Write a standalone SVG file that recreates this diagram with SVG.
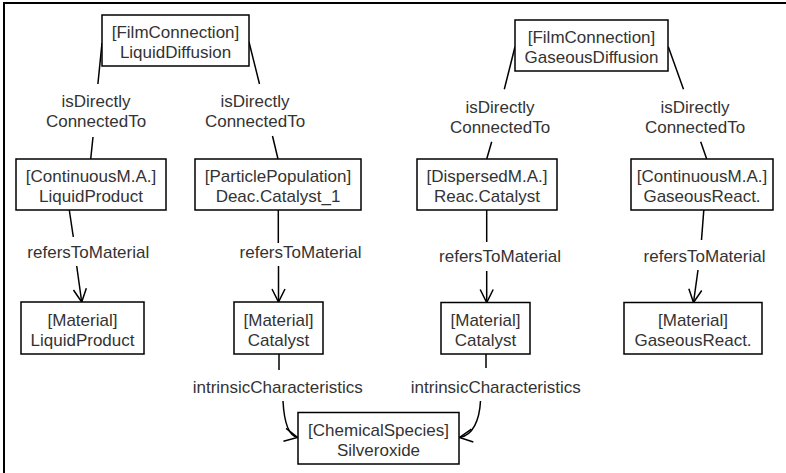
<svg xmlns="http://www.w3.org/2000/svg" width="786" height="473" viewBox="0 0 786 473">
<style>
.box{fill:#fff;stroke:#000;stroke-width:1.5}
.t{font-family:"Liberation Sans",Arial,sans-serif;font-size:17px;fill:#333;text-anchor:middle}
.e{fill:none;stroke:#000;stroke-width:1.5}
.a{marker-end:url(#arr)}
</style>
<defs>
<marker id="arr" viewBox="-15 -8 17 16" markerWidth="17" markerHeight="16" refX="0" refY="0" orient="auto" markerUnits="userSpaceOnUse">
<path d="M-13,-6.5 L0,0 L-13,6.5" fill="none" stroke="#000" stroke-width="1.5"/>
</marker>
</defs>
<rect width="786" height="473" fill="#fff"/>
<path d="M4,473 V3 H786" fill="none" stroke="#000" stroke-width="2"/>

<g id="connectors">
<path class="e" d="M102,43 L97.9,84 M93,137 L90.7,159"/>
<path class="e" d="M249,42 L259.5,84 M272.5,136 L278,159"/>
<path class="e" d="M515,46.7 L504.3,89.3 M491.7,141.7 L486.7,159"/>
<path class="e" d="M668.3,46.7 L683.5,89.3 M700.7,141.7 L706.7,159"/>
<path class="e" d="M69.3,210 L73.3,237"/>
<path class="e a" d="M76.7,266 L81.7,302"/>
<path class="e" d="M278.3,210 L278.3,243"/>
<path class="e a" d="M278.5,266 L278.5,302"/>
<path class="e" d="M486.7,210 L486.7,242"/>
<path class="e a" d="M486.7,271 L486.7,302.5"/>
<path class="e" d="M703.8,210 L701.5,240"/>
<path class="e a" d="M698,270 L693.5,302.5"/>
<path class="e" d="M279,354 L279,370"/>
<path class="e a" d="M283,401 C284,420 288,435.5 297.5,437.5"/>
<path class="e" d="M486,354 L486,368"/>
<path class="e a" d="M480.5,401 C479.5,420 473,435.5 459.5,437.5"/>
</g>

<g id="labels">
<text class="t" x="96" y="107">isDirectly</text>
<text class="t" x="96" y="127">ConnectedTo</text>
<text class="t" x="255" y="107">isDirectly</text>
<text class="t" x="255" y="127">ConnectedTo</text>
<text class="t" x="500" y="113">isDirectly</text>
<text class="t" x="500" y="133">ConnectedTo</text>
<text class="t" x="695" y="113">isDirectly</text>
<text class="t" x="695" y="133">ConnectedTo</text>
<text class="t" x="88.3" y="258">refersToMaterial</text>
<text class="t" x="300.5" y="258">refersToMaterial</text>
<text class="t" x="500" y="262">refersToMaterial</text>
<text class="t" x="704.5" y="262">refersToMaterial</text>
<text class="t" x="277.7" y="393">intrinsicCharacteristics</text>
<text class="t" x="495.8" y="392.5">intrinsicCharacteristics</text>
</g>

<g id="liquidDiffusion">
<rect class="box" x="102" y="15" width="147" height="51"/>
<text class="t" x="175.5" y="38">[FilmConnection]</text>
<text class="t" x="175.5" y="58">LiquidDiffusion</text>
</g>
<g id="gaseousDiffusion">
<rect class="box" x="515" y="20" width="153" height="51"/>
<text class="t" x="591.5" y="43">[FilmConnection]</text>
<text class="t" x="591.5" y="63">GaseousDiffusion</text>
</g>
<g id="contLiquidProduct">
<rect class="box" x="16" y="159" width="150" height="51"/>
<text class="t" x="91" y="182">[ContinuousM.A.]</text>
<text class="t" x="91" y="202">LiquidProduct</text>
</g>
<g id="particlePopulation">
<rect class="box" x="195" y="159" width="166" height="51"/>
<text class="t" x="278" y="182">[ParticlePopulation]</text>
<text class="t" x="278" y="202">Deac.Catalyst_1</text>
</g>
<g id="dispersedReacCatalyst">
<rect class="box" x="417" y="159" width="140" height="51"/>
<text class="t" x="487" y="182">[DispersedM.A.]</text>
<text class="t" x="487" y="202">Reac.Catalyst</text>
</g>
<g id="contGaseousReact">
<rect class="box" x="631" y="159" width="142" height="51"/>
<text class="t" x="702" y="182">[ContinuousM.A.]</text>
<text class="t" x="702" y="202">GaseousReact.</text>
</g>
<g id="matLiquidProduct">
<rect class="box" x="21" y="302" width="123" height="52"/>
<text class="t" x="82.5" y="325.5">[Material]</text>
<text class="t" x="82.5" y="345.5">LiquidProduct</text>
</g>
<g id="matCatalyst1">
<rect class="box" x="234" y="302" width="89" height="52"/>
<text class="t" x="278.5" y="325.5">[Material]</text>
<text class="t" x="278.5" y="345.5">Catalyst</text>
</g>
<g id="matCatalyst2">
<rect class="box" x="441" y="302.5" width="89" height="51.5"/>
<text class="t" x="485.5" y="325.5">[Material]</text>
<text class="t" x="485.5" y="345.5">Catalyst</text>
</g>
<g id="matGaseousReact">
<rect class="box" x="624" y="302.5" width="138" height="51.5"/>
<text class="t" x="693" y="325.5">[Material]</text>
<text class="t" x="693" y="345.5">GaseousReact.</text>
</g>
<g id="chemSilveroxide">
<rect class="box" x="298" y="412.5" width="161" height="51.5"/>
<text class="t" x="378.5" y="435.5">[ChemicalSpecies]</text>
<text class="t" x="378.5" y="455.5">Silveroxide</text>
</g>
</svg>
